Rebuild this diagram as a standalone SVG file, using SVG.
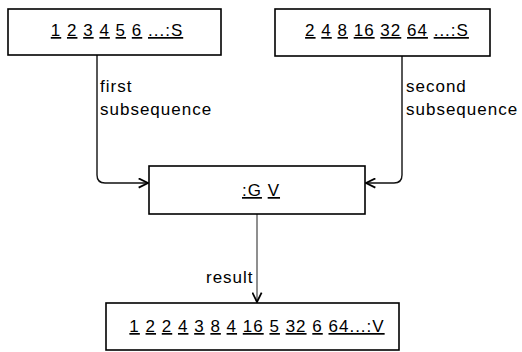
<svg xmlns="http://www.w3.org/2000/svg" width="522" height="352" viewBox="0 0 522 352">
  <style>
    .box { fill: #fff; stroke: #000; stroke-width: 1.6; }
    .lbl { font-family: "Liberation Sans", Arial, sans-serif; font-size: 17px; letter-spacing: 1px; fill: #000; }
    .u { text-decoration: underline; }
    .edge { fill: none; stroke: #111; stroke-width: 1.4; }
    .thin { stroke: #333; stroke-width: 1.1; }
  </style>
  <defs>
    <marker id="arrow" viewBox="0 0 10 10" refX="9.5" refY="5" markerWidth="11" markerHeight="11" markerUnits="userSpaceOnUse" orient="auto">
      <path d="M1,0.8 L9.5,5 L1,9.2" fill="none" stroke="#000" stroke-width="1.6"/>
    </marker>
  </defs>

  <rect width="522" height="352" fill="#fff"/>

  <!-- connectors -->
  <g id="connectors">
    <path class="edge" d="M97,55 V175 Q97,183 105,183 H148" marker-end="url(#arrow)"/>
    <path class="edge" d="M402,56 V175 Q402,183 394,183 H366" marker-end="url(#arrow)"/>
    <path class="edge thin" d="M257,214 V302" marker-end="url(#arrow)"/>
    <text class="lbl" x="100" y="92">first</text>
    <text class="lbl" x="100" y="115">subsequence</text>
    <text class="lbl" x="406" y="92">second</text>
    <text class="lbl" x="406" y="115">subsequence</text>
    <text class="lbl" x="206" y="283">result</text>
  </g>

  <!-- first source sequence -->
  <g id="seq1">
    <rect class="box" x="8" y="9" width="213" height="46"/>
    <text class="lbl" x="117" y="36" text-anchor="middle"><tspan class="u">1</tspan> <tspan class="u">2</tspan> <tspan class="u">3</tspan> <tspan class="u">4</tspan> <tspan class="u">5</tspan> <tspan class="u">6</tspan> <tspan class="u">...:S</tspan></text>
  </g>

  <!-- second source sequence -->
  <g id="seq2">
    <rect class="box" x="275" y="9" width="215" height="47"/>
    <text class="lbl" x="387" y="36" text-anchor="middle"><tspan class="u">2</tspan> <tspan class="u">4</tspan> <tspan class="u">8</tspan> <tspan class="u">16</tspan> <tspan class="u">32</tspan> <tspan class="u">64</tspan> <tspan class="u">...:S</tspan></text>
  </g>

  <!-- merging object -->
  <g id="merger">
    <rect class="box" x="149" y="166" width="216" height="48"/>
    <text class="lbl" x="261" y="196" text-anchor="middle"><tspan class="u">:G</tspan> <tspan class="u">V</tspan></text>
  </g>

  <!-- merged result sequence -->
  <g id="merged">
    <rect class="box" x="106" y="303" width="293" height="47"/>
    <text class="lbl" x="257" y="332" text-anchor="middle"><tspan class="u">1</tspan> <tspan class="u">2</tspan> <tspan class="u">2</tspan> <tspan class="u">4</tspan> <tspan class="u">3</tspan> <tspan class="u">8</tspan> <tspan class="u">4</tspan> <tspan class="u">16</tspan> <tspan class="u">5</tspan> <tspan class="u">32</tspan> <tspan class="u">6</tspan> <tspan class="u">64...:V</tspan></text>
  </g>
</svg>
